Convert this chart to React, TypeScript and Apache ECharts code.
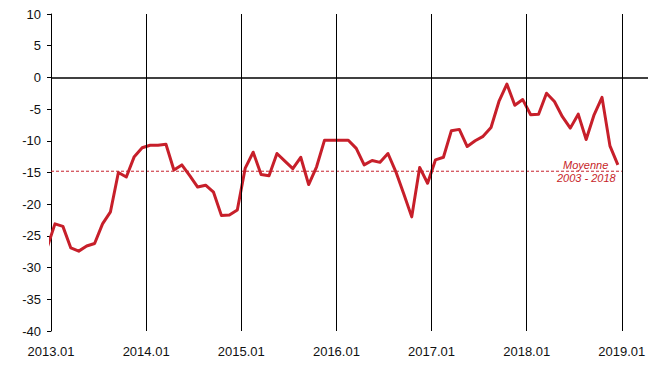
import React, { useEffect, useRef } from "react";
import * as echarts from "echarts";

// Monthly values, first entry is 2012.12 (only its segment into 2013.01 is visible), then 2013.01 .. 2018.12
const START_YEAR = 2013;
const VALUES: number[] = [
  -26.9,
  -23.1, -23.5, -26.9, -27.4, -26.6, -26.2, -23.1, -21.2, -15.0, -15.7, -12.5, -11.1,
  -10.7, -10.7, -10.55, -14.6, -13.8, -15.5, -17.3, -17.0, -18.1, -21.8, -21.7, -20.9,
  -14.3, -11.8, -15.3, -15.5, -12.0, -13.2, -14.4, -12.6, -16.9, -14.1, -9.9, -9.9,
  -9.9, -9.9, -11.2, -13.8, -13.1, -13.4, -12.0, -14.9, -18.4, -22.0, -14.2, -16.7,
  -13.0, -12.6, -8.4, -8.2, -10.9, -10.0, -9.3, -7.9, -3.8, -1.05, -4.4, -3.5,
  -5.9, -5.8, -2.5, -3.8, -6.2, -8.0, -5.8, -9.8, -5.9, -3.15, -10.8, -13.8,
];
const YEAR_TICKS = [2013, 2014, 2015, 2016, 2017, 2018, 2019];
const MEAN = -14.8;
const MEAN_LABEL = ["Moyenne", "2003 - 2018"];
const X_MAX = 75.3; // months shown after 2013.01

const RED = "#c71f2a";
const FONT = "'Liberation Sans', Arial, sans-serif";

export default function App() {
  const ref = useRef<HTMLDivElement>(null);
  useEffect(() => {
    if (!ref.current) return;
    const chart = echarts.init(ref.current, undefined, { renderer: "svg" });
    const lineData = VALUES.map((v, i) => [i - 0.5, v]);
    const black = { color: "#000", width: 1, type: "solid" };
    const yearLines = YEAR_TICKS.slice(1).map((y) => ({
      xAxis: (y - START_YEAR) * 12,
      lineStyle: black,
    }));
    const lastX = (YEAR_TICKS[YEAR_TICKS.length - 1] - START_YEAR) * 12;
    chart.setOption({
      animation: false,
      backgroundColor: "#ffffff",
      textStyle: { fontFamily: FONT },
      grid: { left: 51, right: 11, top: 14, bottom: 45, containLabel: false },
      xAxis: {
        type: "value",
        min: 0,
        max: X_MAX,
        interval: 12,
        axisLine: { show: false },
        axisTick: { show: false },
        splitLine: { show: false },
        axisLabel: {
          color: "#111",
          fontSize: 13,
          fontFamily: FONT,
          margin: 14,
          showMaxLabel: false,
          formatter: (v: number) =>
            v % 12 === 0 && v <= lastX ? `${START_YEAR + v / 12}.01` : "",
        },
      },
      yAxis: {
        type: "value",
        min: -40,
        max: 10,
        interval: 5,
        axisLine: { show: true, lineStyle: { color: "#000", width: 1 } },
        axisTick: { show: true, length: 4, lineStyle: { color: "#000" } },
        splitLine: { show: false },
        axisLabel: { color: "#111", fontSize: 13, fontFamily: FONT, margin: 10 },
      },
      series: [
        {
          type: "line",
          data: [],
          z: 1,
          silent: true,
          markLine: {
            silent: true,
            symbol: "none",
            label: { show: false },
            animation: false,
            data: [
              { yAxis: 0, lineStyle: { color: "#000", width: 1.5, type: "solid" } },
              ...yearLines,
            ],
          },
        },
        {
          type: "line",
          data: [[0, MEAN], [lastX, MEAN]],
          z: 2,
          silent: true,
          showSymbol: false,
          symbol: "none",
          color: RED,
          lineStyle: { color: RED, width: 1, type: [3, 2] },
        },
        {
          type: "line",
          data: lineData,
          z: 3,
          clip: true,
          showSymbol: false,
          symbol: "none",
          color: RED,
          lineStyle: { color: RED, width: 3, join: "round" },
        },
      ],
      graphic: [
        {
          type: "text",
          left: 563,
          top: 159,
          style: { text: MEAN_LABEL[0], fill: RED, font: `italic 11px ${FONT}` },
        },
        {
          type: "text",
          left: 557,
          top: 172,
          style: { text: MEAN_LABEL[1], fill: RED, font: `italic 11px ${FONT}` },
        },
      ],
    });
    return () => chart.dispose();
  }, []);
  return (
    <div
      ref={ref}
      style={{ position: "fixed", left: 0, top: 0, width: 659, height: 376, background: "#fff" }}
    />
  );
}
